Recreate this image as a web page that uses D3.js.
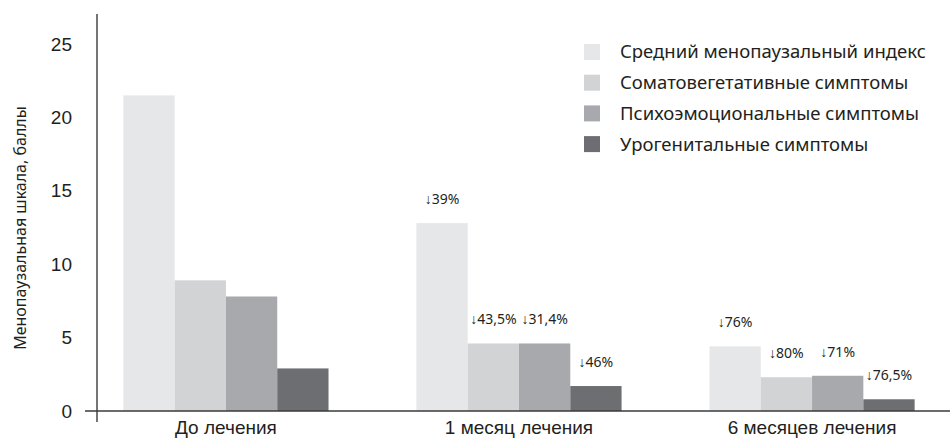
<!DOCTYPE html>
<html>
<head>
<meta charset="utf-8">
<script src="https://cdn.jsdelivr.net/npm/d3@7"></script>
<style>
  html, body { margin: 0; padding: 0; background: #fff; }
  svg { display: block; font-family: "Noto Sans", "Open Sans", sans-serif; }
</style>
</head>
<body>
<svg id="chart" width="950" height="441"></svg>
<script>
// Periods of treatment (x categories)
const periods = ["До лечения", "1 месяц лечения", "6 месяцев лечения"];

// Series (menopausal scale components)
const seriesNames = [
  "Средний менопаузальный индекс",
  "Соматовегетативные симптомы",
  "Психоэмоциональные симптомы",
  "Урогенитальные симптомы"
];
const seriesColors = ["#e6e7e8", "#d1d3d4", "#a7a9ac", "#6d6e71"];

// Scores per period, one array per series
const meanIndex   = [21.5, 12.8, 4.4];
const somatic     = [8.9, 4.6, 2.3];
const psycho      = [7.8, 4.6, 2.4];
const urogenital  = [2.9, 1.7, 0.8];

// Reduction labels relative to baseline (null = no label)
const meanIndexLabels  = [null, "↓39%", "↓76%"];
const somaticLabels    = [null, "↓43,5%", "↓80%"];
const psychoLabels     = [null, "↓31,4%", "↓71%"];
const urogenitalLabels = [null, "↓46%", "↓76,5%"];

const yTicks = [0, 5, 10, 15, 20, 25];
const yTitle = "Менопаузальная шкала, баллы";

const seriesValues = [meanIndex, somatic, psycho, urogenital];
const seriesLabels = [meanIndexLabels, somaticLabels, psychoLabels, urogenitalLabels];

const svg = d3.select("#chart");
const ink = "#231f20";
const axisInk = "#3a3a3c";

const x0 = d3.scaleBand().domain(periods).range([97, 941]).paddingInner(0.3).paddingOuter(0.09);
const x1 = d3.scaleBand().domain(d3.range(seriesNames.length)).range([0, x0.bandwidth()]).padding(0);
const y = d3.scaleLinear().domain([0, 25]).range([411, 44]);

// Bars
const groups = svg.append("g").selectAll("g")
  .data(periods)
  .join("g")
  .attr("transform", d => `translate(${x0(d)},0)`);

const cells = (p, i) => seriesValues.map((vals, s) => ({ s, v: vals[i], label: seriesLabels[s][i] }));

groups.selectAll("rect")
  .data(cells)
  .join("rect")
  .attr("x", d => x1(d.s))
  .attr("y", d => y(d.v))
  .attr("width", x1.bandwidth())
  .attr("height", d => y(0) - y(d.v))
  .attr("fill", d => seriesColors[d.s]);

// Reduction labels above bars
groups.selectAll("text.pct")
  .data((p, i) => cells(p, i).filter(d => d.label))
  .join("text")
  .attr("class", "pct")
  .attr("x", d => x1(d.s) + x1.bandwidth() / 2)
  .attr("y", d => y(d.v) - 24)
  .attr("dy", "0.35em")
  .attr("text-anchor", "middle")
  .attr("font-size", 14)
  .attr("fill", ink)
  .text(d => d.label);

// Y axis (labels only, line drawn separately)
const yAxis = svg.append("g")
  .attr("transform", "translate(97,0)")
  .call(d3.axisLeft(y).tickValues(yTicks).tickSize(0).tickPadding(25).tickFormat(d3.format("d")));
yAxis.select(".domain").remove();
yAxis.selectAll("text").attr("font-size", 19).attr("fill", ink).attr("font-family", "inherit");

// X axis (labels only)
const xAxis = svg.append("g")
  .attr("transform", `translate(0,${y(0)})`)
  .call(d3.axisBottom(x0).tickSize(0).tickPadding(10));
xAxis.select(".domain").remove();
xAxis.selectAll("text").attr("font-size", 19).attr("fill", ink).attr("font-family", "inherit");

// Axis lines
svg.append("line")
  .attr("x1", 97).attr("x2", 97)
  .attr("y1", 14).attr("y2", y(0) + 11)
  .attr("stroke", axisInk).attr("stroke-width", 1.4);
svg.append("line")
  .attr("x1", 85).attr("x2", 950)
  .attr("y1", y(0)).attr("y2", y(0))
  .attr("stroke", axisInk).attr("stroke-width", 1.4);

// Y axis title
svg.append("text")
  .attr("transform", "translate(20,228) rotate(-90)")
  .attr("text-anchor", "middle")
  .attr("dy", "0.35em")
  .attr("font-size", 16)
  .attr("fill", ink)
  .text(yTitle);

// Legend
const legend = svg.append("g").attr("transform", "translate(584,44)");
const items = legend.selectAll("g")
  .data(seriesNames)
  .join("g")
  .attr("transform", (d, i) => `translate(0,${i * 30.7})`);
items.append("rect")
  .attr("width", 16).attr("height", 16)
  .attr("fill", (d, i) => seriesColors[i]);
items.append("text")
  .attr("x", 36).attr("y", 8)
  .attr("dy", "0.35em")
  .attr("font-size", 18.5)
  .attr("fill", ink)
  .text(d => d);
</script>
</body>
</html>
